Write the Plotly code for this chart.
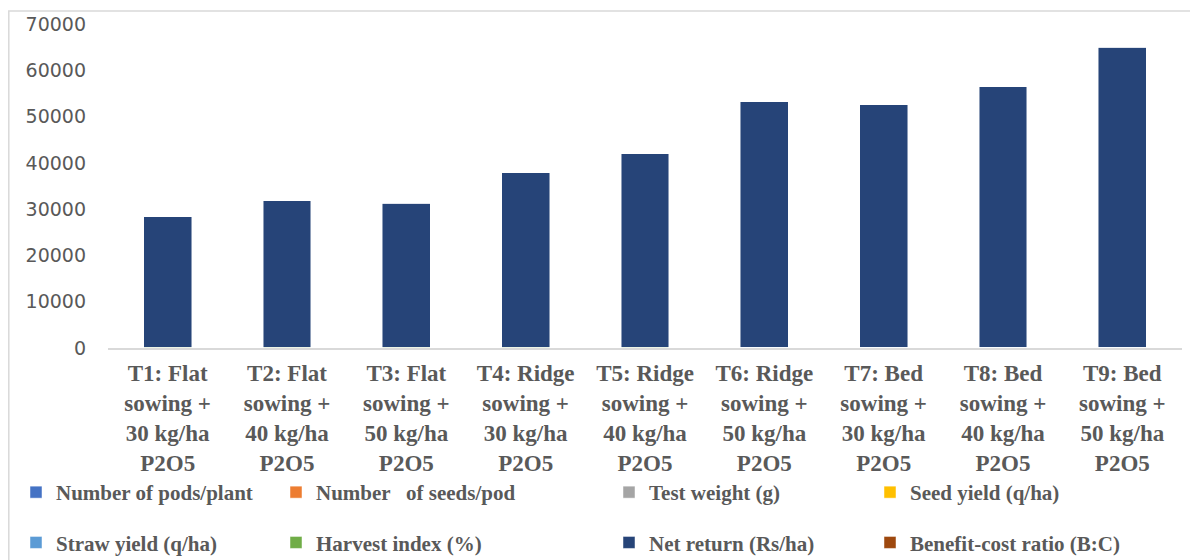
import plotly.graph_objects as go

categories = [
    "T1: Flat<br>sowing +<br>30 kg/ha<br>P2O5",
    "T2: Flat<br>sowing +<br>40 kg/ha<br>P2O5",
    "T3: Flat<br>sowing +<br>50 kg/ha<br>P2O5",
    "T4: Ridge<br>sowing +<br>30 kg/ha<br>P2O5",
    "T5: Ridge<br>sowing +<br>40 kg/ha<br>P2O5",
    "T6: Ridge<br>sowing +<br>50 kg/ha<br>P2O5",
    "T7: Bed<br>sowing +<br>30 kg/ha<br>P2O5",
    "T8: Bed<br>sowing +<br>40 kg/ha<br>P2O5",
    "T9: Bed<br>sowing +<br>50 kg/ha<br>P2O5",
]

pods_per_plant = [24.5, 26.1, 25.8, 27.3, 28.6, 31.2, 30.4, 32.1, 34.0]
seeds_per_pod = [1.8, 1.9, 1.9, 2.0, 2.1, 2.2, 2.2, 2.3, 2.4]
test_weight = [34.2, 35.0, 34.8, 35.6, 36.1, 37.4, 37.0, 37.8, 38.5]
seed_yield = [9.8, 10.5, 10.4, 11.6, 12.4, 14.5, 14.3, 15.2, 16.8]
straw_yield = [24.1, 25.2, 25.0, 27.0, 28.3, 31.5, 31.2, 32.6, 34.9]
harvest_index = [28.9, 29.4, 29.4, 30.1, 30.5, 31.5, 31.4, 31.8, 32.5]
net_return = [28200, 31700, 31100, 37700, 41800, 53100, 52400, 56300, 64800]
bc_ratio = [1.85, 1.95, 1.92, 2.10, 2.22, 2.55, 2.52, 2.65, 2.90]

series = [
    ("Number of pods/plant", pods_per_plant, "#4472C4", "legend"),
    ("Number \u00a0 of seeds/pod", seeds_per_pod, "#ED7D31", "legend2"),
    ("Test weight (g)", test_weight, "#A5A5A5", "legend3"),
    ("Seed yield (q/ha)", seed_yield, "#FFC000", "legend4"),
    ("Straw yield (q/ha)", straw_yield, "#5B9BD5", "legend"),
    ("Harvest index (%)", harvest_index, "#70AD47", "legend2"),
    ("Net return (Rs/ha)", net_return, "#264478", "legend3"),
    ("Benefit-cost ratio (B:C)", bc_ratio, "#9E480E", "legend4"),
]

fig = go.Figure()
for i, (name, vals, color, lg) in enumerate(series):
    fig.add_trace(go.Bar(
        x=categories, y=vals, name=name,
        marker=dict(color=color, line=dict(color="rgba(255,255,255,0.6)", width=0.8)),
        legend=lg, legendgroup=f"g{i}",
    ))

# page body has an 8px margin: screen px = figure px + 8
OFF = 8
W, H = 1198, 560
L, R, T, B = 100, 24, 16, 220
pw, ph = W - L - R, H - T - B


def px_x(sx):
    return (sx - OFF - L) / pw


def px_y(sy):
    return (H - B - (sy - OFF)) / ph


legend_font = dict(family="Liberation Serif", size=21, color="#595959", weight="bold")
leg_common = dict(orientation="v", font=legend_font, bgcolor="rgba(0,0,0,0)",
                  xanchor="left", yanchor="top", tracegroupgap=20,
                  itemclick=False, itemdoubleclick=False)
leg_top = px_y(472)

fig.update_layout(
    width=W, height=H,
    margin=dict(l=L, r=R, t=T, b=B, autoexpand=False),
    barmode="stack",
    bargap=0.6,
    plot_bgcolor="white",
    paper_bgcolor="white",
    showlegend=True,
    legend=dict(x=px_x(16), y=leg_top, **leg_common),
    legend2=dict(x=px_x(276), y=leg_top, **leg_common),
    legend3=dict(x=px_x(609), y=leg_top, **leg_common),
    legend4=dict(x=px_x(870), y=leg_top, **leg_common),
    xaxis=dict(
        automargin=False,
        showgrid=False, showline=True, linecolor="#D9D9D9", linewidth=1.5,
        ticks="", tickfont=dict(family="Liberation Serif", size=23, color="#595959", weight="bold"),
        ticklabelstandoff=4,
    ),
    yaxis=dict(
        automargin=False,
        range=[0, 70000], dtick=10000, showgrid=False, zeroline=False,
        showline=False, tickformat="d",
        tickfont=dict(family="DejaVu Sans", size=19, color="#595959"),
        ticklabelstandoff=21,
    ),
    shapes=[dict(
        type="rect", xref="paper", yref="paper",
        x0=px_x(8.8), x1=px_x(1215), y0=px_y(11), y1=px_y(620),
        line=dict(color="#D9D9D9", width=1.5), fillcolor="rgba(0,0,0,0)",
        layer="below",
    )],
)

fig.write_html("out.html")
